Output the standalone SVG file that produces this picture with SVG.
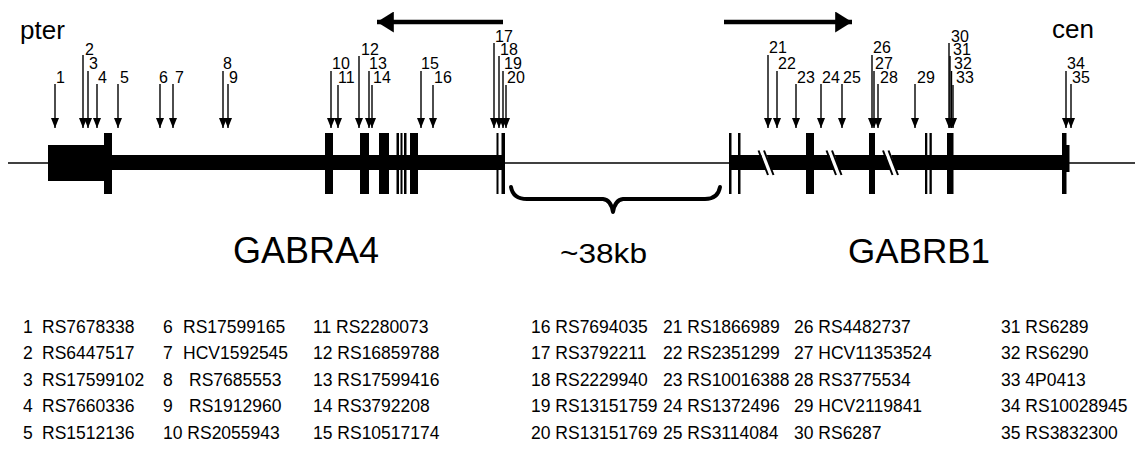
<svg xmlns="http://www.w3.org/2000/svg" width="1135" height="453" viewBox="0 0 1135 453">
<style>
text{font-family:"Liberation Sans",Arial,sans-serif;fill:#000}
.lbl{font-size:16px}
.tbl{font-size:17.5px}
.big{font-size:36px}
.snp{stroke:#000;stroke-width:1.4;fill:none;marker-end:url(#ah)}
.blk{fill:#000}
.brk{stroke:#000;stroke-width:2}
</style>
<defs>
<marker id="ah" viewBox="0 0 10 8" refX="10" refY="4" markerWidth="11" markerHeight="8" orient="auto" markerUnits="userSpaceOnUse"><path d="M0,0 L10,4 L0,8 z" fill="#000"/></marker>
<marker id="bigah" viewBox="0 0 16 20" refX="16" refY="10" markerWidth="17" markerHeight="21" orient="auto" markerUnits="userSpaceOnUse"><path d="M0,0 L16,10 L0,20 z" fill="#000"/></marker>
</defs>
<rect width="1135" height="453" fill="#fff"/>

<text x="20" y="39" style="font-size:26px">pter</text>
<text x="1052" y="38" style="font-size:26px">cen</text>

<g id="chromosome">
<line x1="8" y1="163" x2="1135" y2="163" stroke="#000" stroke-width="1.5"/>
</g>

<g id="GABRA4-gene">
<rect class="blk" x="48" y="145" width="56" height="36"/>
<rect class="blk" x="104" y="133" width="8" height="61"/>
<rect class="blk" x="111" y="155" width="394" height="15"/>
<rect class="blk" x="325" y="133" width="8" height="61"/>
<rect class="blk" x="360" y="133" width="9" height="61"/>
<rect class="blk" x="379" y="133" width="10" height="61"/>
<rect class="blk" x="396.5" y="133" width="2.5" height="61"/>
<rect class="blk" x="400.5" y="133" width="2" height="61"/>
<rect class="blk" x="404" y="133" width="2.5" height="61"/>
<rect class="blk" x="410" y="133" width="8" height="61"/>
<rect class="blk" x="496.5" y="133" width="2" height="61"/>
<rect class="blk" x="501.5" y="133" width="3.5" height="61"/>
<text class="big" x="233" y="263">GABRA4</text>
</g>

<g id="GABRB1-gene">
<rect class="blk" x="730" y="155" width="336" height="15"/>
<rect class="blk" x="729" y="133" width="2.5" height="61"/>
<rect class="blk" x="738" y="133" width="2.5" height="61"/>
<rect class="blk" x="806" y="133" width="8" height="61"/>
<rect class="blk" x="869" y="133" width="6" height="61"/>
<rect class="blk" x="925" y="133" width="2.3" height="61"/>
<rect class="blk" x="929.5" y="133" width="2.3" height="61"/>
<rect class="blk" x="947" y="133" width="6.5" height="61"/>
<rect class="blk" x="1062" y="133" width="4.5" height="61"/>
<rect class="blk" x="1066" y="145" width="3.5" height="27"/>
<polygon points="760,150.5 765.5,150.5 772.5,175 767,175" fill="#fff"/>
<line class="brk" x1="758.5" y1="150.5" x2="768" y2="175"/>
<line class="brk" x1="764" y1="150.5" x2="773.5" y2="175"/>
<polygon points="828,150.5 833.5,150.5 840.5,175 835,175" fill="#fff"/>
<line class="brk" x1="826.5" y1="150.5" x2="836" y2="175"/>
<line class="brk" x1="832" y1="150.5" x2="841.5" y2="175"/>
<polygon points="884.5,150.5 890,150.5 897,175 891.5,175" fill="#fff"/>
<line class="brk" x1="883" y1="150.5" x2="892.5" y2="175"/>
<line class="brk" x1="888.5" y1="150.5" x2="898" y2="175"/>
<text class="big" x="848" y="263" style="font-size:35px">GABRB1</text>
</g>

<g id="intergenic">
<path d="M511,187 Q513,199 527,199 L603,199 Q611,200 613,212 Q615,200 623,199 L705,199 Q718,199 720,187" fill="none" stroke="#000" stroke-width="4" stroke-linejoin="round" stroke-linecap="round"/>
<text x="560" y="263" style="font-size:28px" textLength="87" lengthAdjust="spacingAndGlyphs">~38kb</text>
</g>

<g id="connectors">
<line x1="503" y1="22" x2="377" y2="22" stroke="#000" stroke-width="4.5" marker-end="url(#bigah)"/>
<line x1="724" y1="22" x2="852" y2="22" stroke="#000" stroke-width="4.5" marker-end="url(#bigah)"/>
<g id="snp-arrows">
<line class="snp" x1="55" y1="84" x2="55" y2="128"/>
<line class="snp" x1="83" y1="55" x2="83" y2="128"/>
<line class="snp" x1="88" y1="71" x2="88" y2="128"/>
<line class="snp" x1="97" y1="84" x2="97" y2="128"/>
<line class="snp" x1="118" y1="84" x2="118" y2="128"/>
<line class="snp" x1="160" y1="84" x2="160" y2="128"/>
<line class="snp" x1="173" y1="84" x2="173" y2="128"/>
<line class="snp" x1="223" y1="71" x2="223" y2="128"/>
<line class="snp" x1="228" y1="84" x2="228" y2="128"/>
<line class="snp" x1="331" y1="71" x2="331" y2="128"/>
<line class="snp" x1="338" y1="85" x2="338" y2="128"/>
<line class="snp" x1="359" y1="56" x2="359" y2="128"/>
<line class="snp" x1="369" y1="71" x2="369" y2="128"/>
<line class="snp" x1="372" y1="85" x2="372" y2="128"/>
<line class="snp" x1="421" y1="71" x2="421" y2="128"/>
<line class="snp" x1="433" y1="85" x2="433" y2="128"/>
<line class="snp" x1="494" y1="43" x2="494" y2="128"/>
<line class="snp" x1="499" y1="56" x2="499" y2="128"/>
<line class="snp" x1="503" y1="71" x2="503" y2="128"/>
<line class="snp" x1="506" y1="85" x2="506" y2="128"/>
<line class="snp" x1="768" y1="55" x2="768" y2="128"/>
<line class="snp" x1="777" y1="71" x2="777" y2="128"/>
<line class="snp" x1="796" y1="84" x2="796" y2="128"/>
<line class="snp" x1="821" y1="84" x2="821" y2="128"/>
<line class="snp" x1="842" y1="84" x2="842" y2="128"/>
<line class="snp" x1="872" y1="55" x2="872" y2="128"/>
<line class="snp" x1="874" y1="71" x2="874" y2="128"/>
<line class="snp" x1="878" y1="84" x2="878" y2="128"/>
<line class="snp" x1="915" y1="84" x2="915" y2="128"/>
<line class="snp" x1="949" y1="43" x2="949" y2="128"/>
<line class="snp" x1="950" y1="56" x2="950" y2="128"/>
<line class="snp" x1="951.5" y1="71" x2="951.5" y2="128"/>
<line class="snp" x1="953" y1="85" x2="953" y2="128"/>
<line class="snp" x1="1066" y1="71" x2="1066" y2="128"/>
<line class="snp" x1="1071" y1="84" x2="1071" y2="128"/>
</g>
</g>

<g id="snp-labels" class="lbl">
<text class="lbl" x="56" y="83">1</text>
<text class="lbl" x="85" y="55">2</text>
<text class="lbl" x="89" y="69">3</text>
<text class="lbl" x="98" y="83">4</text>
<text class="lbl" x="120" y="83">5</text>
<text class="lbl" x="159" y="83">6</text>
<text class="lbl" x="175" y="83">7</text>
<text class="lbl" x="223" y="69">8</text>
<text class="lbl" x="229" y="83">9</text>
<text class="lbl" x="332" y="69">10</text>
<text class="lbl" x="338" y="83">11</text>
<text class="lbl" x="361" y="55">12</text>
<text class="lbl" x="369" y="69">13</text>
<text class="lbl" x="373" y="83">14</text>
<text class="lbl" x="421" y="69">15</text>
<text class="lbl" x="434" y="83">16</text>
<text class="lbl" x="495" y="42">17</text>
<text class="lbl" x="500" y="55">18</text>
<text class="lbl" x="504" y="69">19</text>
<text class="lbl" x="507" y="83">20</text>
<text class="lbl" x="769" y="53">21</text>
<text class="lbl" x="778" y="69">22</text>
<text class="lbl" x="797" y="83">23</text>
<text class="lbl" x="822" y="83">24</text>
<text class="lbl" x="843" y="83">25</text>
<text class="lbl" x="873" y="53">26</text>
<text class="lbl" x="875" y="69">27</text>
<text class="lbl" x="880" y="83">28</text>
<text class="lbl" x="917" y="83">29</text>
<text class="lbl" x="951" y="42">30</text>
<text class="lbl" x="953" y="55">31</text>
<text class="lbl" x="954" y="69">32</text>
<text class="lbl" x="956" y="83">33</text>
<text class="lbl" x="1067" y="69">34</text>
<text class="lbl" x="1072" y="83">35</text>
</g>

<g id="legend" class="tbl">
<text class="tbl" x="23" y="333">1</text><text class="tbl" x="42" y="333">RS7678338</text>
<text class="tbl" x="23" y="359">2</text><text class="tbl" x="42" y="359">RS6447517</text>
<text class="tbl" x="23" y="386">3</text><text class="tbl" x="42" y="386">RS17599102</text>
<text class="tbl" x="23" y="412">4</text><text class="tbl" x="42" y="412">RS7660336</text>
<text class="tbl" x="23" y="439">5</text><text class="tbl" x="42" y="439">RS1512136</text>
<text class="tbl" x="163" y="333">6</text><text class="tbl" x="183" y="333">RS17599165</text>
<text class="tbl" x="163" y="359">7</text><text class="tbl" x="183" y="359">HCV1592545</text>
<text class="tbl" x="163" y="386">8</text><text class="tbl" x="189" y="386">RS7685553</text>
<text class="tbl" x="163" y="412">9</text><text class="tbl" x="189" y="412">RS1912960</text>
<text class="tbl" x="163" y="439">10 RS2055943</text>
<text class="tbl" x="313" y="333">11 RS2280073</text>
<text class="tbl" x="313" y="359">12 RS16859788</text>
<text class="tbl" x="313" y="386">13 RS17599416</text>
<text class="tbl" x="313" y="412">14 RS3792208</text>
<text class="tbl" x="313" y="439">15 RS10517174</text>
<text class="tbl" x="531" y="333">16 RS7694035</text>
<text class="tbl" x="531" y="359">17 RS3792211</text>
<text class="tbl" x="531" y="386">18 RS2229940</text>
<text class="tbl" x="531" y="412">19 RS13151759</text>
<text class="tbl" x="531" y="439">20 RS13151769</text>
<text class="tbl" x="663" y="333">21 RS1866989</text>
<text class="tbl" x="663" y="359">22 RS2351299</text>
<text class="tbl" x="663" y="386">23 RS10016388</text>
<text class="tbl" x="663" y="412">24 RS1372496</text>
<text class="tbl" x="663" y="439">25 RS3114084</text>
<text class="tbl" x="794" y="333">26 RS4482737</text>
<text class="tbl" x="794" y="359">27 HCV11353524</text>
<text class="tbl" x="794" y="386">28 RS3775534</text>
<text class="tbl" x="794" y="412">29 HCV2119841</text>
<text class="tbl" x="794" y="439">30 RS6287</text>
<text class="tbl" x="1001" y="333">31 RS6289</text>
<text class="tbl" x="1001" y="359">32 RS6290</text>
<text class="tbl" x="1001" y="386">33 4P0413</text>
<text class="tbl" x="1001" y="412">34 RS10028945</text>
<text class="tbl" x="1001" y="439">35 RS3832300</text>
</g>
</svg>
